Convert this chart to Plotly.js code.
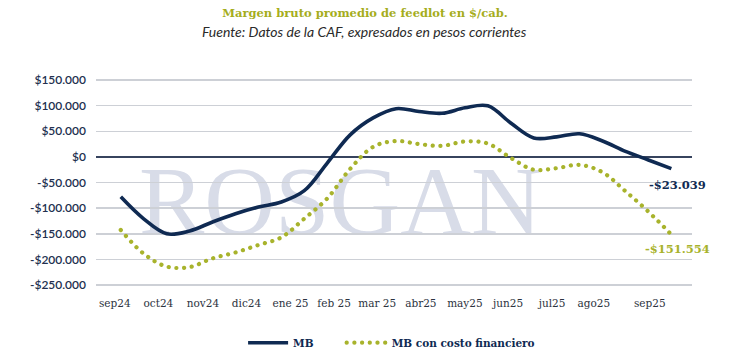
<!DOCTYPE html>
<html>
<head>
<meta charset="utf-8">
<script src="https://cdn.plot.ly/plotly-3.0.1.min.js"></script>
<style>
  html, body { margin: 0; padding: 0; background: #fff; }
  #chart { width: 730px; height: 357px; }
  .scatterlayer .trace:last-child .js-line,
  .legend2 .traces .js-line {
    stroke-linecap: round !important;
    stroke-dasharray: 0.1px 7.6px !important;
  }
</style>
</head>
<body>
<div id="chart"></div>
<script>
// ---- data (half-month steps, sep24 .. sep25) ----
const monthIndex = [0,0.5,1,1.5,2,2.5,3,3.5,4,4.5,5,5.5,6,6.5,7,7.5,8,8.5,9,9.5,10,10.5,11,11.5,12];
const mb = [-78000,-121000,-150000,-144500,-127000,-111000,-98000,-88000,-66000,-12000,43000,76000,94000,88500,85000,95700,99600,66000,37000,39000,45000,31000,10700,-6000,-23039];
const mbFin = [-142600,-189000,-214000,-215000,-198000,-186500,-172000,-157000,-120500,-81000,-23400,19500,31000,25000,21500,30000,26000,-2000,-25000,-22000,-15600,-30000,-67000,-107000,-151554];
const monthLabels = ["sep24","oct24","nov24","dic24","ene 25","feb 25","mar 25","abr25","may25","jun25","jul25","ago25","sep25"];
const yTickValues = [150000,100000,50000,0,-50000,-100000,-150000,-200000,-250000];
const yTickLabels = ["$150.000","$100.000","$50.000","$0","-$50.000","-$100.000","-$150.000","-$200.000","-$250.000"];
const seriesNames = ["MB","MB con costo financiero"];
const endLabels = ["-$23.039","-$151.554"];

// layout positions of the month labels on the axis
const labelPos = [-0.13,0.82,1.79,2.74,3.70,4.65,5.59,6.54,7.50,8.44,9.40,10.31,11.53];

const NAVY = "#0f2a52";
const OLIVE = "#a8b32c";
const SLAB = "DejaVu Serif";

const traces = [
  {x: monthIndex, y: mb, name: seriesNames[0], type: "scatter", mode: "lines", legend: "legend",
   line: {color: NAVY, width: 3.6, shape: "spline", smoothing: 1}, hoverinfo: "skip"},
  {x: monthIndex, y: mbFin, name: seriesNames[1], type: "scatter", mode: "lines", legend: "legend2",
   line: {color: OLIVE, width: 4.2, shape: "spline", smoothing: 1, dash: "dot"}, hoverinfo: "skip"}
];

const legendFont = {family: SLAB, size: 10.5, color: NAVY, weight: 700};
const last = monthIndex.length - 1;
const layout = {
  width: 730, height: 357,
  margin: {l: 96, r: 38, t: 70, b: 62},
  paper_bgcolor: "#fff", plot_bgcolor: "#fff",
  showlegend: true,
  title: {text: "Margen bruto promedio de feedlot en $/cab.", x: 0.5, xanchor: "center", y: 0.965, yanchor: "middle",
          font: {family: SLAB, size: 11.5, color: "#a5ad1c", weight: 700}},
  xaxis: {range: [-0.54, 12.45], tickmode: "array", tickvals: labelPos, ticktext: monthLabels,
          showgrid: false, zeroline: false, showline: false, ticks: "", automargin: false,
          tickfont: {family: SLAB, size: 10.5, color: "#2c3340"}},
  yaxis: {range: [-269500, 169500], tickmode: "array", tickvals: yTickValues, ticktext: yTickLabels,
          showgrid: true, gridcolor: "#cdd0d6", gridwidth: 1.5, automargin: false,
          zeroline: true, zerolinecolor: "#37445e", zerolinewidth: 1.3,
          showline: false, ticks: "", ticklabelstandoff: 9,
          tickfont: {family: "Lato, sans-serif", size: 12, color: "#22304f", weight: 600}},
  legend: {orientation: "h", xref: "container", yref: "container", x: 0.333, xanchor: "left", y: 0.04, yanchor: "middle",
           font: legendFont, itemwidth: 40},
  legend2: {orientation: "h", xref: "container", yref: "container", x: 0.468, xanchor: "left", y: 0.04, yanchor: "middle",
           font: legendFont, itemwidth: 40},
  shapes: [
    {type: "rect", xref: "paper", yref: "paper", x0: 0.03, x1: 0.79, y0: 0.26, y1: 0.67, layer: "below",
     line: {width: 0}, fillcolor: "rgba(0,0,0,0)",
     label: {text: "ROSGAN", textposition: "middle center",
             font: {family: "Liberation Serif", size: 98, color: "#d8dce8"}}}
  ],
  annotations: [
    {xref: "paper", yref: "paper", x: 0.451, y: 1.0, yshift: 39, xanchor: "center", yanchor: "middle", showarrow: false,
     text: "Fuente: Datos de la CAF, expresados en pesos corrientes",
     font: {family: "Lato, sans-serif", size: 14, color: "#2a2a2a", style: "italic"}},
    {x: monthIndex[last], y: mb[last], xref: "x", yref: "y", showarrow: false, xshift: 6, yshift: -16,
     text: endLabels[0], font: {family: SLAB, size: 11.5, color: NAVY, weight: 700}},
    {x: monthIndex[last], y: mbFin[last], xref: "x", yref: "y", showarrow: false, xshift: 6, yshift: -14,
     text: endLabels[1], font: {family: SLAB, size: 11.5, color: OLIVE, weight: 700}}
  ]
};

Plotly.newPlot("chart", traces, layout, {staticPlot: true, displayModeBar: false});
</script>
</body>
</html>
